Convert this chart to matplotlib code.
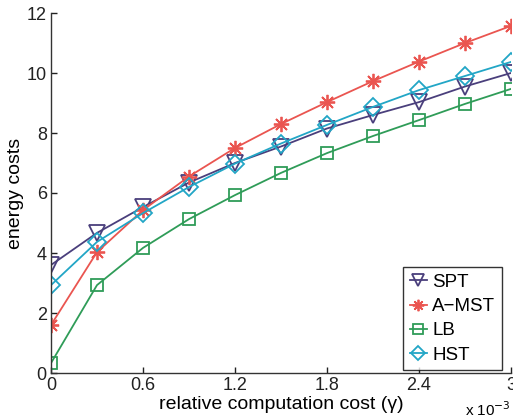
import matplotlib
matplotlib.use("Agg")
import matplotlib.pyplot as plt
import numpy as np

plt.rcParams['font.family'] = ['Liberation Sans', 'DejaVu Sans']

# relative computation cost (x 10^-3)
gamma = [0.0, 0.3, 0.6, 0.9, 1.2, 1.5, 1.8, 2.1, 2.4, 2.7, 3.0]

spt = [3.6, 4.67, 5.53, 6.35, 7.0, 7.55, 8.15, 8.6, 9.03, 9.55, 10.0]
amst = [1.6, 4.03, 5.43, 6.55, 7.5, 8.3, 9.03, 9.73, 10.38, 11.0, 11.57]
lb = [0.33, 2.93, 4.17, 5.13, 5.93, 6.67, 7.33, 7.9, 8.43, 8.97, 9.47]
hst = [2.93, 4.37, 5.33, 6.2, 6.98, 7.65, 8.27, 8.87, 9.43, 9.9, 10.37]

asterisk = (8, 2, 0)
series = [
    ("SPT", spt, "#4a3f7c", "v", 11),
    ("A\u2212MST", amst, "#ea5550", asterisk, 11),
    ("LB", lb, "#2f9c58", "s", 9),
    ("HST", hst, "#22a6c6", "D", 9),
]

xticks = [0, 0.6, 1.2, 1.8, 2.4, 3.0]
xticklabels = ["0", "0.6", "1.2", "1.8", "2.4", "3"]
yticks = [0, 2, 4, 6, 8, 10, 12]

fig = plt.figure(figsize=(5.13, 4.2), dpi=100)
ax = fig.add_axes([51 / 513, 1 - 373 / 420, 460 / 513, 360 / 420])

for name, vals, color, marker, ms in series:
    ax.plot(gamma, vals, color=color, marker=marker, markersize=ms,
            markerfacecolor="none", markeredgecolor=color, markeredgewidth=1.3,
            linewidth=1.3, label=name)

ax.set_xlim(0, 3.0)
ax.set_ylim(0, 12)
ax.set_xticks(xticks)
ax.set_xticklabels(xticklabels)
ax.set_yticks(yticks)
ax.tick_params(direction="in", length=4, labelsize=13, width=1, pad=3,
               colors="#222222")
ax.spines["top"].set_visible(False)
ax.spines["right"].set_visible(False)
for s in ("left", "bottom"):
    ax.spines[s].set_linewidth(1.0)
    ax.spines[s].set_color("#333333")

ax.set_xlabel("relative computation cost (\u03b3)", fontsize=14, labelpad=1)
ax.set_ylabel("energy costs", fontsize=14, labelpad=2)

fig.text(488 / 513, 1 - 410 / 420, r"x 10$^{-3}$", fontsize=11,
         ha="center", va="center")

leg = ax.legend(loc="lower right", bbox_to_anchor=(0.992, -0.008), fontsize=13.5,
                frameon=True, fancybox=False, handlelength=0.9,
                handletextpad=0.3, borderpad=0.35, labelspacing=0.38,
                markerscale=0.75, borderaxespad=0.3)
leg.get_frame().set_edgecolor("black")
leg.get_frame().set_linewidth(1.0)

fig.savefig("out.png", dpi=100)
